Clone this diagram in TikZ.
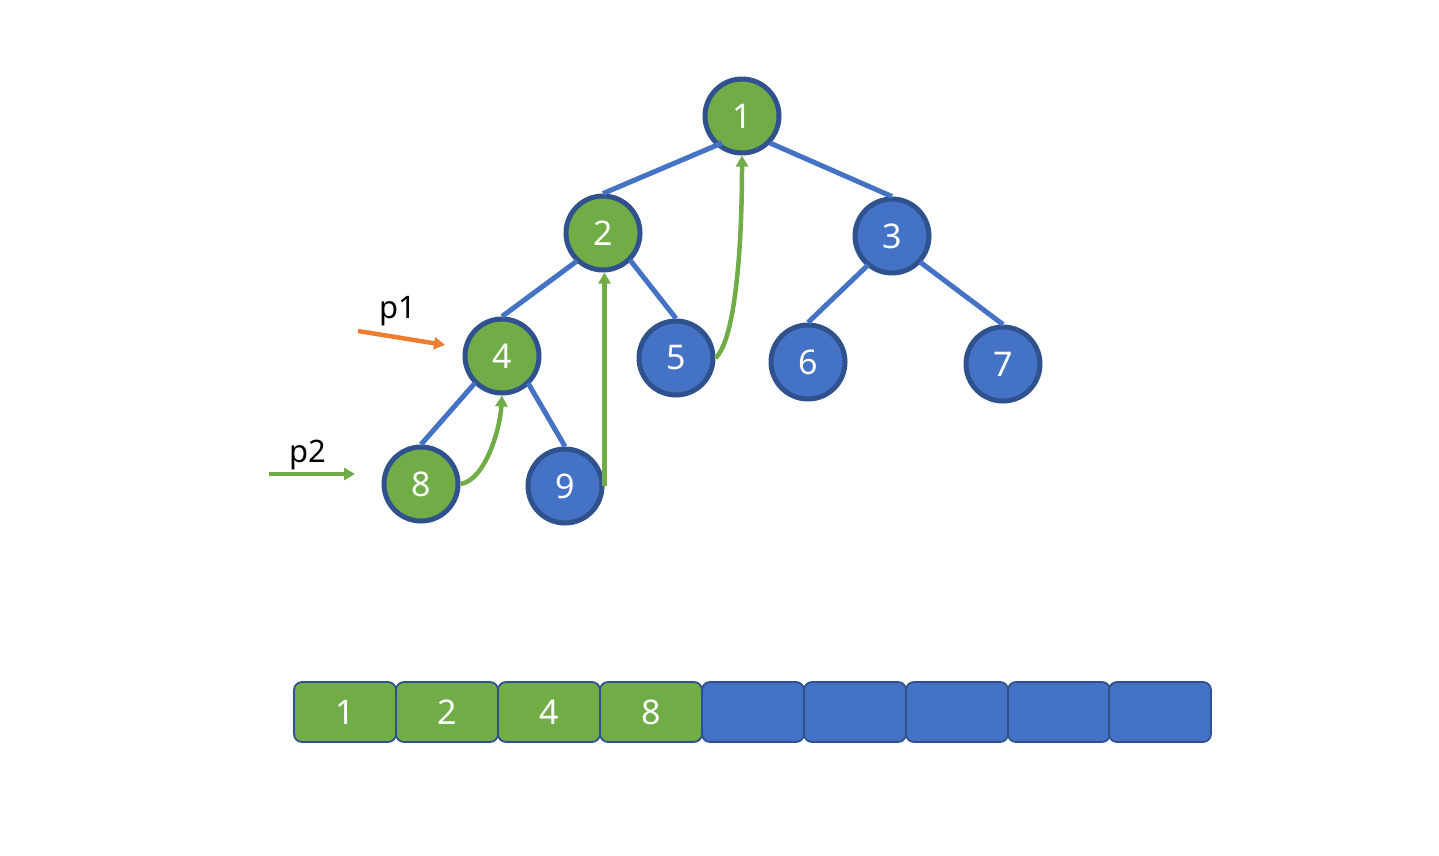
\documentclass[tikz,border=0pt]{standalone}
\usepackage{fontspec}
\setmainfont{Noto Sans}
\usetikzlibrary{arrows.meta}
\definecolor{cgreen}{HTML}{70AD47}
\definecolor{cblue}{HTML}{4472C4}
\definecolor{cdark}{HTML}{2F528F}
\definecolor{corange}{HTML}{ED7D31}
\tikzset{
  tnode/.style={circle,draw=cdark,line width=5pt,minimum size=74pt,inner sep=0pt,text=white,font=\fontsize{34}{36}\selectfont},
  gnode/.style={tnode,fill=cgreen},
  bnode/.style={tnode,fill=cblue},
  cell/.style={rectangle,rounded corners=8pt,draw=cdark,line width=1.8pt,minimum width=102pt,minimum height=60pt,inner sep=0pt,text=white,font=\fontsize{34}{36}\selectfont},
  gcell/.style={cell,fill=cgreen},
  bcell/.style={cell,fill=cblue},
  edge/.style={draw=cblue,line width=5pt},
  garrow/.style={draw=cgreen,line width=4.5pt,-{Triangle[length=11pt,width=12pt]}},
  oarrow/.style={draw=corange,line width=4.5pt,-{Triangle[length=11pt,width=12pt]}},
  lbl/.style={font=\fontsize{31}{34}\selectfont,text=black,inner sep=0pt}
}
\begin{document}
\begin{tikzpicture}[x=1pt,y=-1pt]
\useasboundingbox (0,0) rectangle (1439,855);
\node[gnode] (n1) at (742,116) {1};
\node[gnode] (n2) at (603,233) {2};
\node[bnode] (n3) at (892,236) {3};
\node[gnode] (n4) at (502,356) {4};
\node[bnode] (n5) at (676,358) {5};
\node[bnode] (n6) at (808,362) {6};
\node[bnode] (n7) at (1003,364) {7};
\node[gnode] (n8) at (421,484) {8};
\node[bnode] (n9) at (565,486) {9};
\draw[edge] ([shift={(-20,27)}]n1.center) -- (n2.north);
\draw[edge] ([shift={(28,27)}]n1.center) -- (n3.north);
\draw[edge] ([shift={(-26,28)}]n2.center) -- (n4.north);
\draw[edge] ([shift={(27,27)}]n2.center) -- (n5.north);
\draw[edge] ([shift={(-24,29)}]n3.center) -- (n6.north);
\draw[edge] ([shift={(28,26)}]n3.center) -- (n7.north);
\draw[edge] ([shift={(-27,27)}]n4.center) -- (n8.north);
\draw[edge] ([shift={(26,27)}]n4.center) -- (n9.north);
% green traversal arrows
\draw[garrow] (n8.east) .. controls (485,480) and (500,430) .. (n4.south);
\draw[garrow] (n9.east) -- (n9.east |- n2.south);
\draw[garrow] (n5.east) .. controls (735,340) and (742,250) .. (n1.south);
% pointers
\coordinate (p1s) at (358,331);
\coordinate (p1e) at (445,345);
\draw[oarrow] (p1s) -- (p1e);
\node[lbl] (p1) at (398,311) {p1};
\coordinate (p2s) at (269,474);
\coordinate (p2e) at (355,474);
\draw[garrow] (p2s) -- (p2e);
\node[lbl] (p2) at (308,455) {p2};
% array
\node[gcell] (c1) at (345,712) {1};
\node[gcell] (c2) at (447,712) {2};
\node[gcell] (c3) at (549,712) {4};
\node[gcell] (c4) at (651,712) {8};
\node[bcell] (c5) at (753,712) {};
\node[bcell] (c6) at (855,712) {};
\node[bcell] (c7) at (957,712) {};
\node[bcell] (c8) at (1059,712) {};
\node[bcell] (c9) at (1160,712) {};
\end{tikzpicture}
\end{document}
